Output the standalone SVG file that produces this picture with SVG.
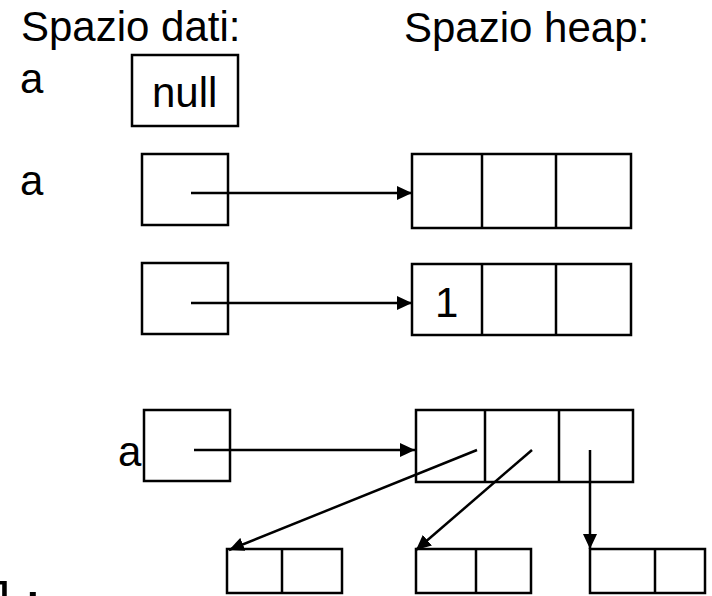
<svg xmlns="http://www.w3.org/2000/svg" width="712" height="596" viewBox="0 0 712 596">
  <style>
    .box { fill: #fff; stroke: #000; stroke-width: 2.5; }
    .div { stroke: #000; stroke-width: 2.5; }
    .lbl { font-family: "Liberation Sans", Arial, sans-serif; font-size: 42px; fill: #000; }
    .code { font-family: "Liberation Mono", "Courier New", monospace; font-size: 52px; fill: #000; }
    .link { stroke: #000; stroke-width: 2.5; fill: none; marker-end: url(#head); }
  </style>
  <defs>
    <marker id="head" markerUnits="userSpaceOnUse" markerWidth="16" markerHeight="14" refX="15" refY="7" orient="auto">
      <path d="M0,0 L15,7 L0,14 Z" fill="#000"/>
    </marker>
  </defs>
  <rect width="712" height="596" fill="#fff"/>

  <!-- section headings -->
  <text class="lbl" x="21" y="41">Spazio dati:</text>
  <text class="lbl" x="404" y="42">Spazio heap:</text>

  <!-- variable names -->
  <text class="lbl" x="20" y="93">a</text>
  <text class="lbl" x="20" y="195">a</text>
  <text class="lbl" x="118" y="466">a</text>

  <!-- trailing code fragment, runs off the bottom edge -->
  <text class="code" x="-14" y="619">];</text>

  <!-- data space cells -->
  <g id="var-null">
    <rect class="box" x="132" y="55" width="106" height="71"/>
    <text class="lbl" x="152" y="107">null</text>
  </g>
  <g id="var-a1">
    <rect class="box" x="142" y="154" width="86" height="71"/>
  </g>
  <g id="var-a2">
    <rect class="box" x="142" y="263" width="86" height="71"/>
  </g>
  <g id="var-a3">
    <rect class="box" x="144" y="410" width="86" height="71"/>
  </g>

  <!-- heap arrays -->
  <g id="heap1">
    <rect class="box" x="412" y="154" width="219" height="74"/>
    <line class="div" x1="482" y1="154" x2="482" y2="228"/>
    <line class="div" x1="556" y1="154" x2="556" y2="228"/>
  </g>
  <g id="heap2">
    <rect class="box" x="412" y="264" width="219" height="71"/>
    <line class="div" x1="482" y1="264" x2="482" y2="335"/>
    <line class="div" x1="556" y1="264" x2="556" y2="335"/>
    <text class="lbl" x="435" y="317">1</text>
  </g>
  <g id="heap3">
    <rect class="box" x="416" y="410" width="217" height="72"/>
    <line class="div" x1="485" y1="410" x2="485" y2="482"/>
    <line class="div" x1="559" y1="410" x2="559" y2="482"/>
  </g>

  <!-- inner arrays -->
  <g id="row0">
    <rect class="box" x="227" y="549" width="115" height="44"/>
    <line class="div" x1="282" y1="549" x2="282" y2="593"/>
  </g>
  <g id="row1">
    <rect class="box" x="416" y="549" width="115" height="44"/>
    <line class="div" x1="476" y1="549" x2="476" y2="593"/>
  </g>
  <g id="row2">
    <rect class="box" x="590" y="549" width="115" height="44"/>
    <line class="div" x1="655" y1="549" x2="655" y2="593"/>
  </g>

  <!-- references -->
  <g id="connectors">
    <line class="link" x1="191" y1="193" x2="412" y2="193"/>
    <line class="link" x1="191" y1="303" x2="412" y2="303"/>
    <line class="link" x1="194" y1="450" x2="415" y2="450"/>
    <line class="link" x1="477" y1="450" x2="229" y2="550"/>
    <line class="link" x1="532" y1="450" x2="416" y2="550"/>
    <line class="link" x1="590" y1="450" x2="590" y2="549"/>
  </g>
</svg>
